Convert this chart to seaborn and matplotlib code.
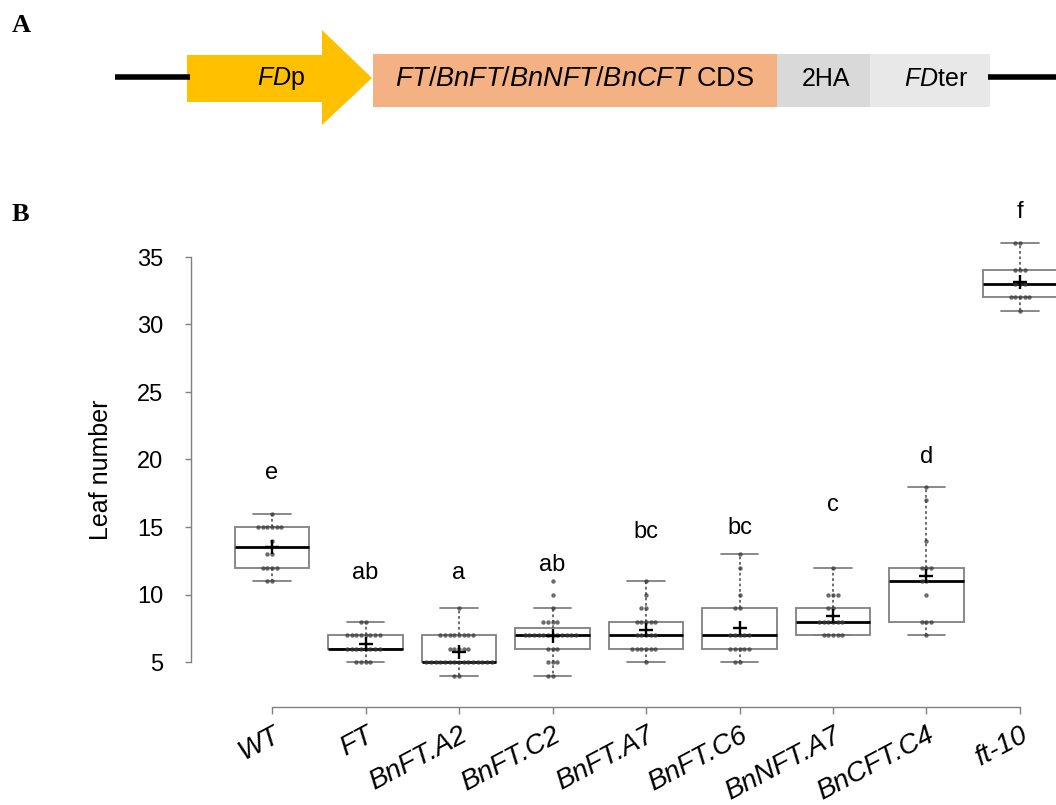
import numpy as np
import pandas as pd
import matplotlib
matplotlib.use("Agg")
import matplotlib.pyplot as plt
import seaborn as sns
from matplotlib.patches import Polygon, Rectangle

# ---------------- data ----------------
groups = ["WT", "FT", "BnFT.A2", "BnFT.C2", "BnFT.A7", "BnFT.C6",
          "BnNFT.A7", "BnCFT.C4", "ft-10"]
wt = [11] * 2 + [12] * 4 + [13] * 2 + [14] + [15] * 6 + [16]
ft = [5] * 4 + [6] * 8 + [7] * 8 + [8] * 2
bnft_a2 = [4] * 2 + [5] * 15 + [6] * 5 + [7] * 8 + [9]
bnft_c2 = [4] * 2 + [5] * 3 + [6] * 3 + [7] * 12 + [8] * 4 + [9, 10, 11]
bnft_a7 = [5] + [6] * 6 + [7] * 5 + [8] * 5 + [9] * 2 + [10, 11]
bnft_c6 = [5] * 2 + [6] * 5 + [7] * 5 + [9] * 2 + [10, 12, 13]
bnnft_a7 = [7] * 5 + [8] * 6 + [9] * 2 + [10] * 3 + [12]
bncft_c4 = [7] + [8] * 3 + [10] + [11] * 2 + [12] * 3 + [14, 17, 18]
ft10 = [31] + [32] * 5 + [33] * 3 + [34] * 3 + [36] * 2
letters = ["e", "ab", "a", "ab", "bc", "bc", "c", "d", "f"]
letter_y = [19.0, 11.6, 11.6, 12.2, 14.6, 14.9, 16.6, 20.2, 38.3]
yticks = [5, 10, 15, 20, 25, 30, 35]

series = [wt, ft, bnft_a2, bnft_c2, bnft_a7, bnft_c6, bnnft_a7, bncft_c4, ft10]
df = pd.DataFrame({
    "group": np.repeat(groups, [len(s) for s in series]),
    "leaves": np.concatenate([np.asarray(s, float) for s in series]),
})

# ---------------- style ----------------
sns.set_theme(style="white")
plt.rcParams["font.family"] = ["Liberation Sans", "DejaVu Sans"]
plt.rcParams["mathtext.fontset"] = "custom"
plt.rcParams["mathtext.it"] = "Liberation Sans:italic"
plt.rcParams["mathtext.rm"] = "Liberation Sans"
for k in ["text.color", "axes.labelcolor", "xtick.labelcolor", "ytick.labelcolor"]:
    plt.rcParams[k] = "black"

W, H = 1056, 805
fig = plt.figure(figsize=(W / 100, H / 100), dpi=100)

# ---------------- panel A (diagram) ----------------
ov = fig.add_axes([0, 0, 1, 1])
ov.set_xlim(0, W)
ov.set_ylim(H, 0)
ov.axis("off")
ov.patch.set_alpha(0)

ov.plot([115, 190], [77, 77], color="black", lw=4, solid_capstyle="butt")
ov.plot([988, 1056], [77, 77], color="black", lw=4, solid_capstyle="butt")
ov.add_patch(Polygon([[187, 55], [322, 55], [322, 30], [372, 78], [322, 125],
                      [322, 102], [187, 102]], closed=True,
                     facecolor="#FFC000", edgecolor="none"))
ov.add_patch(Rectangle((373, 54), 404, 53, facecolor="#F4B183", edgecolor="none"))
ov.add_patch(Rectangle((777, 54), 93, 53, facecolor="#D9D9D9", edgecolor="none"))
ov.add_patch(Rectangle((870, 54), 120, 53, facecolor="#E8E8E8", edgecolor="none"))
ov.text(281, 79, r"$\mathit{FD}$p", ha="center", va="center", fontsize=18)
ov.text(575, 79, r"$\mathit{FT/BnFT/BnNFT/BnCFT}$ CDS", ha="center",
        va="center", fontsize=19.5)
ov.text(826, 79, "2HA", ha="center", va="center", fontsize=18)
ov.text(936, 79, r"$\mathit{FD}$ter", ha="center", va="center", fontsize=18)
ov.text(12, 25, "A", ha="left", va="center", fontsize=19, fontweight="bold",
        family="Liberation Serif")
ov.text(12, 214, "B", ha="left", va="center", fontsize=19, fontweight="bold",
        family="Liberation Serif")

# ---------------- panel B (box plot) ----------------
ax_left, ax_right = 191, W
ax_top, ax_bot = 200, 707
ax = fig.add_axes([ax_left / W, (H - ax_bot) / H,
                   (ax_right - ax_left) / W, (ax_bot - ax_top) / H])
ax.patch.set_alpha(0)

gray = "#808080"
sns.boxplot(data=df, x="group", y="leaves", order=groups, ax=ax, width=0.8,
            color="white", linecolor=gray, linewidth=1.3, showfliers=False,
            showmeans=True,
            meanprops=dict(marker="+", markeredgecolor="black",
                           markerfacecolor="black", markersize=10,
                           markeredgewidth=1.7, zorder=6),
            medianprops=dict(color="black", linewidth=2.0, zorder=4),
            whiskerprops=dict(linestyle=(0, (1.5, 1.5)), color="#606060"),
            capprops=dict(color=gray), capwidths=0.4)
sns.swarmplot(data=df, x="group", y="leaves", order=groups, ax=ax, size=3.2,
              color="#3a3a3a", alpha=0.75, zorder=5)

for i, (lab, yy) in enumerate(zip(letters, letter_y)):
    ax.text(i, yy, lab, ha="center", va="center", fontsize=17)

# scales: pos p -> px = 272 + p*93.5 ; value v -> py = 662 - (v-5)*13.5
ax.set_xlim((ax_left - 272) / 93.5, (ax_right - 272) / 93.5)
ax.set_ylim(5 - (ax_bot - 662) / 13.5, 5 + (662 - ax_top) / 13.5)

for s in ["top", "right"]:
    ax.spines[s].set_visible(False)
ax.spines["left"].set_bounds(5, 35)
ax.spines["bottom"].set_bounds(0, len(groups) - 1)
for s in ["left", "bottom"]:
    ax.spines[s].set_color(gray)
    ax.spines[s].set_linewidth(1.0)

ax.set_yticks(yticks)
ax.set_yticklabels([str(t) for t in yticks])
ax.tick_params(axis="y", length=4, width=1.0, color=gray, labelsize=17,
               pad=16, left=True, labelcolor="black")
ax.set_xticks(range(len(groups)))
ax.set_xticklabels(groups, rotation=28, ha="right", rotation_mode="anchor",
                   fontstyle="italic")
ax.tick_params(axis="x", length=5, width=1.0, color=gray, labelsize=20,
               pad=6, bottom=True, labelcolor="black")
ax.set_xlabel("")
ax.set_ylabel("Leaf number", fontsize=18, color="black")
ax.yaxis.set_label_coords(-0.09, 0.467)

fig.savefig("out.png", dpi=100)
